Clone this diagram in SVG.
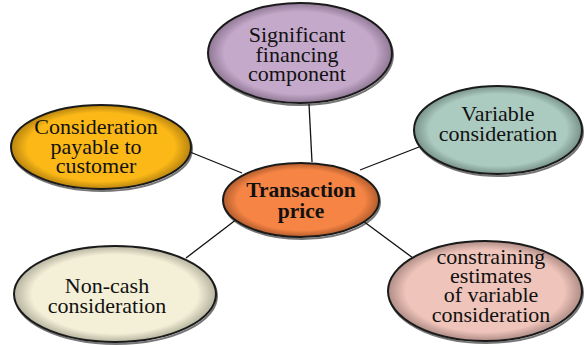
<svg xmlns="http://www.w3.org/2000/svg" width="584" height="345" viewBox="0 0 584 345">
<defs>
<radialGradient id="gTop"><stop offset="0.82" stop-color="#C5A9CB"/><stop offset="1" stop-color="#8F7894"/></radialGradient>
<radialGradient id="gLeft"><stop offset="0.82" stop-color="#FBB817"/><stop offset="1" stop-color="#B88410"/></radialGradient>
<radialGradient id="gCenter"><stop offset="0.82" stop-color="#F58445"/><stop offset="1" stop-color="#B25C2C"/></radialGradient>
<radialGradient id="gRight"><stop offset="0.82" stop-color="#ABCAC0"/><stop offset="1" stop-color="#78928A"/></radialGradient>
<radialGradient id="gBL"><stop offset="0.82" stop-color="#F4F0D8"/><stop offset="1" stop-color="#B5B29E"/></radialGradient>
<radialGradient id="gBR"><stop offset="0.82" stop-color="#EFC4BA"/><stop offset="1" stop-color="#AE8C85"/></radialGradient>
</defs>
<style>
.node ellipse{stroke:#1a1a1a;stroke-width:2}
.shadow{fill:none;stroke:#777;stroke-width:3;opacity:0.6}
text{font-family:"Liberation Serif","Times New Roman",serif;font-size:22px;fill:#111;text-anchor:middle}
.b{font-weight:bold;font-size:21.5px}
#connectors line{stroke:#111;stroke-width:1.3}
</style>
<rect width="584" height="345" fill="#fff"/>
<g id="connectors">
<line x1="309" y1="104" x2="312" y2="162"/>
<line x1="190" y1="152" x2="242" y2="173"/>
<line x1="360" y1="170" x2="419" y2="147"/>
<line x1="186" y1="258" x2="237" y2="219"/>
<line x1="363" y1="221" x2="413" y2="258"/>
</g>
<g id="node-financing" class="node">
<ellipse class="shadow" cx="301" cy="55" rx="92" ry="50"/>
<ellipse cx="300" cy="53" rx="92" ry="50" fill="url(#gTop)"/>
<text x="297" y="42">Significant</text>
<text x="297" y="62">financing</text>
<text x="297" y="81">component</text>
</g>
<g id="node-payable" class="node">
<ellipse class="shadow" cx="102" cy="149" rx="90" ry="42"/>
<ellipse cx="101" cy="147" rx="90" ry="42" fill="url(#gLeft)"/>
<text x="96" y="134">Consideration</text>
<text x="96" y="154">payable to</text>
<text x="96" y="173">customer</text>
</g>
<g id="node-price" class="node">
<ellipse class="shadow" cx="302" cy="202" rx="78" ry="37"/>
<ellipse cx="301" cy="200" rx="78" ry="37" fill="url(#gCenter)"/>
<text class="b" x="301" y="197">Transaction</text>
<text class="b" x="301" y="218">price</text>
</g>
<g id="node-variable" class="node">
<ellipse class="shadow" cx="499" cy="132" rx="84" ry="44"/>
<ellipse cx="498" cy="130" rx="84" ry="44" fill="url(#gRight)"/>
<text x="498" y="121">Variable</text>
<text x="498" y="141">consideration</text>
</g>
<g id="node-noncash" class="node">
<ellipse class="shadow" cx="116" cy="296" rx="101" ry="48"/>
<ellipse cx="115" cy="294" rx="101" ry="48" fill="url(#gBL)"/>
<text x="107" y="293">Non-cash</text>
<text x="107" y="313">consideration</text>
</g>
<g id="node-constraining" class="node">
<ellipse class="shadow" cx="486" cy="293" rx="97" ry="50"/>
<ellipse cx="485" cy="291" rx="97" ry="50" fill="url(#gBR)"/>
<text x="491" y="264">constraining</text>
<text x="491" y="283">estimates</text>
<text x="491" y="302">of variable</text>
<text x="491" y="322">consideration</text>
</g>
</svg>
